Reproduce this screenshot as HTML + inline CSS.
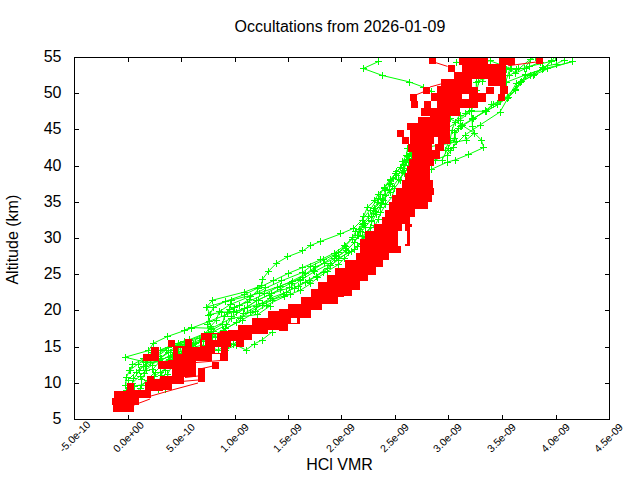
<!DOCTYPE html><html><head><meta charset="utf-8"><style>html,body{margin:0;padding:0;background:#fff;}svg{display:block;font-family:"Liberation Sans",sans-serif;}</style></head><body>
<svg width="640" height="480" viewBox="0 0 640 480">
<rect width="640" height="480" fill="#fff"/>
<path d="M74.5,57.5H79M609.5,57.5H605M74.5,419.5V415M74.5,57.5V62M74.5,93.5H79M609.5,93.5H605M128.5,419.5V415M128.5,57.5V62M74.5,129.5H79M609.5,129.5H605M181.5,419.5V415M181.5,57.5V62M74.5,166.5H79M609.5,166.5H605M235.5,419.5V415M235.5,57.5V62M74.5,202.5H79M609.5,202.5H605M288.5,419.5V415M288.5,57.5V62M74.5,238.5H79M609.5,238.5H605M341.5,419.5V415M341.5,57.5V62M74.5,274.5H79M609.5,274.5H605M395.5,419.5V415M395.5,57.5V62M74.5,310.5H79M609.5,310.5H605M448.5,419.5V415M448.5,57.5V62M74.5,347.5H79M609.5,347.5H605M502.5,419.5V415M502.5,57.5V62M74.5,383.5H79M609.5,383.5H605M556.5,419.5V415M556.5,57.5V62M74.5,419.5H79M609.5,419.5H605M609.5,419.5V415M609.5,57.5V62" stroke="#000" stroke-width="1" fill="none"/>
<rect x="74.5" y="57.5" width="535.0" height="362.0" stroke="#000" stroke-width="1" fill="none"/>
<clipPath id="pc"><rect x="75" y="58" width="534" height="361"/></clipPath><g clip-path="url(#pc)">
<path d="M125.00,357.20L148.40,350.60L153.40,343.25L167.75,336.40L191.25,328.25L209.00,321.40L233.50,311.90L262.00,303.00L290.00,294.00M125.00,357.20L145.00,362.00L162.50,362.00L175.00,358.00L190.00,352.00M126.00,397.00L134.00,386.00L141.00,385.00L150.00,380.00L160.00,372.00L165.00,370.00M126.00,390.00L132.00,383.00L140.00,376.00L146.00,370.00L152.00,365.00L160.00,358.00L168.00,352.00M128.00,380.00L136.00,372.00L143.00,366.00L150.00,362.00L158.00,356.00L166.00,350.00M135.00,395.00L140.00,388.00L147.00,380.00L155.00,372.00L163.00,364.00L172.00,356.00M130.00,370.00L138.00,364.00L145.00,360.00L153.00,356.00L160.00,350.00L178.00,343.00L184.00,341.00M206.50,307.00L212.75,300.10L244.60,292.00L261.60,285.60L262.60,279.10L268.20,271.60L276.60,263.10L287.90,256.60L302.90,250.90L310.00,245.75L320.60,241.40L340.60,233.90L353.75,228.25L362.00,220.00L370.00,210.00L378.00,198.00M206.50,307.00L231.50,300.10L259.00,293.25L280.00,286.00L300.00,279.00M206.50,307.00L210.25,314.50L221.50,312.00L227.75,312.00L234.00,307.00L239.00,305.75L249.00,299.50L261.50,285.75M184.00,330.10L191.50,327.60L211.50,328.25L231.50,318.25L257.75,314.50L270.00,306.00M378.50,61.50L363.30,68.50L382.50,75.50L409.75,82.00L423.10,87.00L431.00,91.00M431.00,169.50L447.50,162.00L455.00,160.00L468.75,154.40L483.75,147.50L481.25,140.00L474.40,133.10L462.50,125.60L450.00,118.75L440.00,112.00M412.00,158.00L435.00,160.00L447.50,155.00L453.10,147.50L456.25,141.25L454.40,132.50L461.90,126.25L473.75,118.75L485.00,110.75L493.75,104.50L507.50,98.25L515.00,89.50L520.60,82.00L533.75,75.10L547.50,68.90L572.50,61.40M410.00,150.00L440.00,145.00L466.25,140.00L474.40,133.10L472.50,126.25L471.25,111.25L486.25,111.25L491.90,104.40L508.10,97.60L515.60,90.10L525.60,75.75L543.10,68.90L551.25,61.40L555.00,57.00M445.00,130.00L460.00,120.00L471.25,110.75L476.25,98.00L476.25,82.00L490.00,75.00L509.40,75.75L518.75,68.90L530.00,59.50L535.00,57.00M456.25,62.00L470.00,65.00L490.00,60.75L511.90,68.90L526.25,68.25L529.40,66.40L551.25,61.40M500.00,100.00L510.00,68.25L515.00,73.25L526.25,68.25L540.00,62.00M450.00,150.00L465.00,135.00L480.00,125.00L500.00,112.00L516.25,83.25L530.00,75.00M460.00,126.40L472.50,119.00L485.30,111.40L497.50,104.80L507.80,97.30L515.30,90.75L521.90,81.40L525.60,74.80L542.50,69.20L572.50,61.70M472.20,118.90L497.50,104.80L521.90,81.40L542.50,69.20L551.90,60.75M506.90,82.00L525.60,74.80L534.00,74.80L542.50,67.00L556.00,64.00L564.00,60.00M506.90,69.20L516.00,69.20L524.70,68.25L530.60,59.80M476.90,90.75L478.75,81.40L482.50,81.40L490.00,70.00M469.40,111.40L465.60,113.30L458.00,120.00M160.00,358.00L170.00,352.00L180.00,346.00L195.00,343.00L205.00,341.00L215.00,337.00L225.00,332.00M158.00,361.00L168.00,357.00L178.00,353.00L190.00,348.00L203.00,345.00L218.00,350.00L228.00,345.00M225.00,350.00L236.00,345.00L246.00,350.00L254.00,344.00L262.00,340.00L272.00,332.00M240.00,318.00L250.00,312.00L262.00,305.00L272.00,300.00L283.00,294.00L294.00,288.00L305.00,282.00L316.00,276.00L327.00,268.00L338.00,260.00L348.00,252.00M236.00,312.00L247.00,307.00L258.00,300.00L269.00,295.00L280.00,289.00L291.00,283.00L302.00,277.00L313.00,270.00L324.00,263.00L335.00,255.00L345.00,248.00M445.00,150.00L450.00,140.00L452.00,130.00L455.00,122.00L460.00,115.00M442.00,160.00L448.00,148.00L454.00,138.00L458.00,128.00M125.91,385.52L126.01,377.83L129.73,370.48L132.85,364.57L143.33,358.72L152.38,352.77L174.70,345.75L189.41,339.64L208.68,332.02L207.86,324.55L208.86,315.88L213.52,307.56L225.26,301.39L244.37,294.73L257.02,288.44L273.18,280.79L288.24,273.40L302.67,267.48L320.85,259.70L334.27,253.02L344.52,245.92L352.33,237.80L355.90,231.33L362.58,224.01L363.78,216.08L367.31,207.40L374.81,200.41L378.12,194.21L384.32,188.35L390.78,180.32L396.17,171.95L403.72,164.13L407.52,156.65L412.67,148.39M133.71,378.72L139.32,370.87L146.68,362.15L155.05,355.56L168.26,347.81L189.08,340.69L204.62,334.60L210.41,326.55L216.30,320.07L219.20,311.72L230.03,304.63L250.51,296.24L265.99,287.91L281.34,280.92L302.41,272.53L310.63,266.33L323.64,259.90L338.25,252.70L345.17,246.18L352.03,239.18L360.49,231.74L363.07,223.93L368.68,216.34L373.28,210.43L377.59,202.35L380.38,194.22L384.19,187.28L390.06,179.64L395.56,173.70L400.71,167.47L402.80,161.57L406.34,155.38L407.55,148.55M141.97,379.72L144.89,373.22L145.37,366.39L161.07,358.10L168.49,350.96L180.70,344.97L199.27,338.20L212.00,329.97L222.54,324.16L224.26,316.84L229.10,309.47L247.63,302.14L264.74,293.81L277.49,287.29L292.11,281.05L305.91,273.71L315.19,266.98L334.22,258.81L346.42,250.51L354.76,242.32L357.71,235.90L359.31,229.09L364.70,223.27L371.24,216.75L374.77,208.14L382.99,199.59L385.40,190.98L389.22,184.58L393.67,178.25L403.04,170.64L405.88,162.38L411.25,154.68L411.76,148.68M154.47,376.35L152.96,369.18L159.97,361.07L174.12,352.93L184.00,346.00L206.54,337.42L213.87,331.17L226.79,324.98L231.86,316.82L244.58,308.60L256.16,300.89L271.58,293.50L289.73,287.72L300.91,280.03L314.59,271.49L330.87,263.13L337.00,256.76L346.64,250.14L354.26,242.64L358.16,235.65L365.14,227.18L371.26,220.06L375.44,211.61L381.10,203.11L385.83,195.78L389.10,189.98L390.57,183.69L396.87,175.56L404.51,168.40L406.56,160.99L410.55,153.69M158.39,389.88L157.98,383.39L161.29,375.34L164.78,367.91L169.60,359.43L178.05,351.86L193.08,344.58L207.74,337.48L223.47,330.31L236.14,322.47L243.40,313.90L256.43,306.48L270.40,298.22L286.12,292.12L298.47,286.16L309.87,280.20L323.04,272.11L331.00,265.91L338.34,258.19L354.47,249.80L360.52,243.40L362.35,236.47L370.22,227.76L371.97,221.53L376.11,214.24L380.02,207.92L383.27,200.01L390.12,192.61L392.80,186.81L398.26,179.20L404.46,173.27L408.84,165.16L407.93,159.11L412.48,153.25M165.18,389.41L169.68,380.93L167.38,374.42L172.18,365.92L175.53,358.08L184.25,352.17L192.13,345.15L212.61,336.60L225.60,328.45L242.11,320.14L255.43,311.81L266.76,305.06L284.52,296.54L300.08,290.41L310.21,283.95L317.64,277.73L327.14,271.38L338.15,264.73L344.66,258.12L351.27,251.85L357.14,246.05L363.89,240.27L365.56,232.87L374.80,225.71L378.15,219.65L380.89,212.61L385.78,204.37L392.07,197.11L394.35,188.42L400.65,180.18L402.66,172.54L403.95,165.75L407.11,159.62L410.16,151.66M228.00,343.00L233.00,344.00L238.00,342.00" fill="none" stroke="#00ff00" stroke-width="1"/>
<path d="M122.0,357.5h7M125.5,354.0v7M145.0,350.5h7M148.5,347.0v7M150.0,343.5h7M153.5,340.0v7M164.0,336.5h7M167.5,333.0v7M188.0,328.5h7M191.5,325.0v7M206.0,321.5h7M209.5,318.0v7M230.0,311.5h7M233.5,308.0v7M259.0,303.5h7M262.5,300.0v7M287.0,294.5h7M290.5,291.0v7M122.0,357.5h7M125.5,354.0v7M142.0,362.5h7M145.5,359.0v7M159.0,362.5h7M162.5,359.0v7M172.0,358.5h7M175.5,355.0v7M187.0,352.5h7M190.5,349.0v7M123.0,397.5h7M126.5,394.0v7M131.0,386.5h7M134.5,383.0v7M138.0,385.5h7M141.5,382.0v7M147.0,380.5h7M150.5,377.0v7M157.0,372.5h7M160.5,369.0v7M162.0,370.5h7M165.5,367.0v7M123.0,390.5h7M126.5,387.0v7M129.0,383.5h7M132.5,380.0v7M137.0,376.5h7M140.5,373.0v7M143.0,370.5h7M146.5,367.0v7M149.0,365.5h7M152.5,362.0v7M157.0,358.5h7M160.5,355.0v7M165.0,352.5h7M168.5,349.0v7M125.0,380.5h7M128.5,377.0v7M133.0,372.5h7M136.5,369.0v7M140.0,366.5h7M143.5,363.0v7M147.0,362.5h7M150.5,359.0v7M155.0,356.5h7M158.5,353.0v7M163.0,350.5h7M166.5,347.0v7M132.0,395.5h7M135.5,392.0v7M137.0,388.5h7M140.5,385.0v7M144.0,380.5h7M147.5,377.0v7M152.0,372.5h7M155.5,369.0v7M160.0,364.5h7M163.5,361.0v7M169.0,356.5h7M172.5,353.0v7M127.0,370.5h7M130.5,367.0v7M135.0,364.5h7M138.5,361.0v7M142.0,360.5h7M145.5,357.0v7M150.0,356.5h7M153.5,353.0v7M157.0,350.5h7M160.5,347.0v7M175.0,343.5h7M178.5,340.0v7M181.0,341.5h7M184.5,338.0v7M203.0,307.5h7M206.5,304.0v7M209.0,300.5h7M212.5,297.0v7M241.0,292.5h7M244.5,289.0v7M258.0,285.5h7M261.5,282.0v7M259.0,279.5h7M262.5,276.0v7M265.0,271.5h7M268.5,268.0v7M273.0,263.5h7M276.5,260.0v7M284.0,256.5h7M287.5,253.0v7M299.0,250.5h7M302.5,247.0v7M307.0,245.5h7M310.5,242.0v7M317.0,241.5h7M320.5,238.0v7M337.0,233.5h7M340.5,230.0v7M350.0,228.5h7M353.5,225.0v7M359.0,220.5h7M362.5,217.0v7M367.0,210.5h7M370.5,207.0v7M375.0,198.5h7M378.5,195.0v7M203.0,307.5h7M206.5,304.0v7M228.0,300.5h7M231.5,297.0v7M256.0,293.5h7M259.5,290.0v7M277.0,286.5h7M280.5,283.0v7M297.0,279.5h7M300.5,276.0v7M203.0,307.5h7M206.5,304.0v7M207.0,314.5h7M210.5,311.0v7M218.0,312.5h7M221.5,309.0v7M224.0,312.5h7M227.5,309.0v7M231.0,307.5h7M234.5,304.0v7M236.0,305.5h7M239.5,302.0v7M246.0,299.5h7M249.5,296.0v7M258.0,285.5h7M261.5,282.0v7M181.0,330.5h7M184.5,327.0v7M188.0,327.5h7M191.5,324.0v7M208.0,328.5h7M211.5,325.0v7M228.0,318.5h7M231.5,315.0v7M254.0,314.5h7M257.5,311.0v7M267.0,306.5h7M270.5,303.0v7M375.0,61.5h7M378.5,58.0v7M360.0,68.5h7M363.5,65.0v7M379.0,75.5h7M382.5,72.0v7M406.0,82.5h7M409.5,79.0v7M420.0,87.5h7M423.5,84.0v7M428.0,91.5h7M431.5,88.0v7M428.0,169.5h7M431.5,166.0v7M444.0,162.5h7M447.5,159.0v7M452.0,160.5h7M455.5,157.0v7M465.0,154.5h7M468.5,151.0v7M480.0,147.5h7M483.5,144.0v7M478.0,140.5h7M481.5,137.0v7M471.0,133.5h7M474.5,130.0v7M459.0,125.5h7M462.5,122.0v7M447.0,118.5h7M450.5,115.0v7M437.0,112.5h7M440.5,109.0v7M409.0,158.5h7M412.5,155.0v7M432.0,160.5h7M435.5,157.0v7M444.0,155.5h7M447.5,152.0v7M450.0,147.5h7M453.5,144.0v7M453.0,141.5h7M456.5,138.0v7M451.0,132.5h7M454.5,129.0v7M458.0,126.5h7M461.5,123.0v7M470.0,118.5h7M473.5,115.0v7M482.0,110.5h7M485.5,107.0v7M490.0,104.5h7M493.5,101.0v7M504.0,98.5h7M507.5,95.0v7M512.0,89.5h7M515.5,86.0v7M517.0,82.5h7M520.5,79.0v7M530.0,75.5h7M533.5,72.0v7M544.0,68.5h7M547.5,65.0v7M569.0,61.5h7M572.5,58.0v7M407.0,150.5h7M410.5,147.0v7M437.0,145.5h7M440.5,142.0v7M463.0,140.5h7M466.5,137.0v7M471.0,133.5h7M474.5,130.0v7M469.0,126.5h7M472.5,123.0v7M468.0,111.5h7M471.5,108.0v7M483.0,111.5h7M486.5,108.0v7M488.0,104.5h7M491.5,101.0v7M505.0,97.5h7M508.5,94.0v7M512.0,90.5h7M515.5,87.0v7M522.0,75.5h7M525.5,72.0v7M540.0,68.5h7M543.5,65.0v7M548.0,61.5h7M551.5,58.0v7M552.0,57.5h7M555.5,54.0v7M442.0,130.5h7M445.5,127.0v7M457.0,120.5h7M460.5,117.0v7M468.0,110.5h7M471.5,107.0v7M473.0,98.5h7M476.5,95.0v7M473.0,82.5h7M476.5,79.0v7M487.0,75.5h7M490.5,72.0v7M506.0,75.5h7M509.5,72.0v7M515.0,68.5h7M518.5,65.0v7M527.0,59.5h7M530.5,56.0v7M532.0,57.5h7M535.5,54.0v7M453.0,62.5h7M456.5,59.0v7M467.0,65.5h7M470.5,62.0v7M487.0,60.5h7M490.5,57.0v7M508.0,68.5h7M511.5,65.0v7M523.0,68.5h7M526.5,65.0v7M526.0,66.5h7M529.5,63.0v7M548.0,61.5h7M551.5,58.0v7M497.0,100.5h7M500.5,97.0v7M507.0,68.5h7M510.5,65.0v7M512.0,73.5h7M515.5,70.0v7M523.0,68.5h7M526.5,65.0v7M537.0,62.5h7M540.5,59.0v7M447.0,150.5h7M450.5,147.0v7M462.0,135.5h7M465.5,132.0v7M477.0,125.5h7M480.5,122.0v7M497.0,112.5h7M500.5,109.0v7M513.0,83.5h7M516.5,80.0v7M527.0,75.5h7M530.5,72.0v7M457.0,126.5h7M460.5,123.0v7M469.0,119.5h7M472.5,116.0v7M482.0,111.5h7M485.5,108.0v7M494.0,104.5h7M497.5,101.0v7M504.0,97.5h7M507.5,94.0v7M512.0,90.5h7M515.5,87.0v7M518.0,81.5h7M521.5,78.0v7M522.0,74.5h7M525.5,71.0v7M539.0,69.5h7M542.5,66.0v7M569.0,61.5h7M572.5,58.0v7M469.0,118.5h7M472.5,115.0v7M494.0,104.5h7M497.5,101.0v7M518.0,81.5h7M521.5,78.0v7M539.0,69.5h7M542.5,66.0v7M548.0,60.5h7M551.5,57.0v7M503.0,82.5h7M506.5,79.0v7M522.0,74.5h7M525.5,71.0v7M531.0,74.5h7M534.5,71.0v7M539.0,67.5h7M542.5,64.0v7M553.0,64.5h7M556.5,61.0v7M561.0,60.5h7M564.5,57.0v7M503.0,69.5h7M506.5,66.0v7M513.0,69.5h7M516.5,66.0v7M521.0,68.5h7M524.5,65.0v7M527.0,59.5h7M530.5,56.0v7M473.0,90.5h7M476.5,87.0v7M475.0,81.5h7M478.5,78.0v7M479.0,81.5h7M482.5,78.0v7M487.0,70.5h7M490.5,67.0v7M466.0,111.5h7M469.5,108.0v7M462.0,113.5h7M465.5,110.0v7M455.0,120.5h7M458.5,117.0v7M157.0,358.5h7M160.5,355.0v7M167.0,352.5h7M170.5,349.0v7M177.0,346.5h7M180.5,343.0v7M192.0,343.5h7M195.5,340.0v7M202.0,341.5h7M205.5,338.0v7M212.0,337.5h7M215.5,334.0v7M222.0,332.5h7M225.5,329.0v7M155.0,361.5h7M158.5,358.0v7M165.0,357.5h7M168.5,354.0v7M175.0,353.5h7M178.5,350.0v7M187.0,348.5h7M190.5,345.0v7M200.0,345.5h7M203.5,342.0v7M215.0,350.5h7M218.5,347.0v7M225.0,345.5h7M228.5,342.0v7M222.0,350.5h7M225.5,347.0v7M233.0,345.5h7M236.5,342.0v7M243.0,350.5h7M246.5,347.0v7M251.0,344.5h7M254.5,341.0v7M259.0,340.5h7M262.5,337.0v7M269.0,332.5h7M272.5,329.0v7M237.0,318.5h7M240.5,315.0v7M247.0,312.5h7M250.5,309.0v7M259.0,305.5h7M262.5,302.0v7M269.0,300.5h7M272.5,297.0v7M280.0,294.5h7M283.5,291.0v7M291.0,288.5h7M294.5,285.0v7M302.0,282.5h7M305.5,279.0v7M313.0,276.5h7M316.5,273.0v7M324.0,268.5h7M327.5,265.0v7M335.0,260.5h7M338.5,257.0v7M345.0,252.5h7M348.5,249.0v7M233.0,312.5h7M236.5,309.0v7M244.0,307.5h7M247.5,304.0v7M255.0,300.5h7M258.5,297.0v7M266.0,295.5h7M269.5,292.0v7M277.0,289.5h7M280.5,286.0v7M288.0,283.5h7M291.5,280.0v7M299.0,277.5h7M302.5,274.0v7M310.0,270.5h7M313.5,267.0v7M321.0,263.5h7M324.5,260.0v7M332.0,255.5h7M335.5,252.0v7M342.0,248.5h7M345.5,245.0v7M442.0,150.5h7M445.5,147.0v7M447.0,140.5h7M450.5,137.0v7M449.0,130.5h7M452.5,127.0v7M452.0,122.5h7M455.5,119.0v7M457.0,115.5h7M460.5,112.0v7M439.0,160.5h7M442.5,157.0v7M445.0,148.5h7M448.5,145.0v7M451.0,138.5h7M454.5,135.0v7M455.0,128.5h7M458.5,125.0v7M122.0,385.5h7M125.5,382.0v7M123.0,377.5h7M126.5,374.0v7M126.0,370.5h7M129.5,367.0v7M129.0,364.5h7M132.5,361.0v7M140.0,358.5h7M143.5,355.0v7M149.0,352.5h7M152.5,349.0v7M171.0,345.5h7M174.5,342.0v7M186.0,339.5h7M189.5,336.0v7M205.0,332.5h7M208.5,329.0v7M204.0,324.5h7M207.5,321.0v7M205.0,315.5h7M208.5,312.0v7M210.0,307.5h7M213.5,304.0v7M222.0,301.5h7M225.5,298.0v7M241.0,294.5h7M244.5,291.0v7M254.0,288.5h7M257.5,285.0v7M270.0,280.5h7M273.5,277.0v7M285.0,273.5h7M288.5,270.0v7M299.0,267.5h7M302.5,264.0v7M317.0,259.5h7M320.5,256.0v7M331.0,253.5h7M334.5,250.0v7M341.0,245.5h7M344.5,242.0v7M349.0,237.5h7M352.5,234.0v7M352.0,231.5h7M355.5,228.0v7M359.0,224.5h7M362.5,221.0v7M360.0,216.5h7M363.5,213.0v7M364.0,207.5h7M367.5,204.0v7M371.0,200.5h7M374.5,197.0v7M375.0,194.5h7M378.5,191.0v7M381.0,188.5h7M384.5,185.0v7M387.0,180.5h7M390.5,177.0v7M393.0,171.5h7M396.5,168.0v7M400.0,164.5h7M403.5,161.0v7M404.0,156.5h7M407.5,153.0v7M409.0,148.5h7M412.5,145.0v7M130.0,378.5h7M133.5,375.0v7M136.0,370.5h7M139.5,367.0v7M143.0,362.5h7M146.5,359.0v7M152.0,355.5h7M155.5,352.0v7M165.0,347.5h7M168.5,344.0v7M186.0,340.5h7M189.5,337.0v7M201.0,334.5h7M204.5,331.0v7M207.0,326.5h7M210.5,323.0v7M213.0,320.5h7M216.5,317.0v7M216.0,311.5h7M219.5,308.0v7M227.0,304.5h7M230.5,301.0v7M247.0,296.5h7M250.5,293.0v7M262.0,287.5h7M265.5,284.0v7M278.0,280.5h7M281.5,277.0v7M299.0,272.5h7M302.5,269.0v7M307.0,266.5h7M310.5,263.0v7M320.0,259.5h7M323.5,256.0v7M335.0,252.5h7M338.5,249.0v7M342.0,246.5h7M345.5,243.0v7M349.0,239.5h7M352.5,236.0v7M357.0,231.5h7M360.5,228.0v7M360.0,223.5h7M363.5,220.0v7M365.0,216.5h7M368.5,213.0v7M370.0,210.5h7M373.5,207.0v7M374.0,202.5h7M377.5,199.0v7M377.0,194.5h7M380.5,191.0v7M381.0,187.5h7M384.5,184.0v7M387.0,179.5h7M390.5,176.0v7M392.0,173.5h7M395.5,170.0v7M397.0,167.5h7M400.5,164.0v7M399.0,161.5h7M402.5,158.0v7M403.0,155.5h7M406.5,152.0v7M404.0,148.5h7M407.5,145.0v7M138.0,379.5h7M141.5,376.0v7M141.0,373.5h7M144.5,370.0v7M142.0,366.5h7M145.5,363.0v7M158.0,358.5h7M161.5,355.0v7M165.0,350.5h7M168.5,347.0v7M177.0,344.5h7M180.5,341.0v7M196.0,338.5h7M199.5,335.0v7M208.0,329.5h7M211.5,326.0v7M219.0,324.5h7M222.5,321.0v7M221.0,316.5h7M224.5,313.0v7M226.0,309.5h7M229.5,306.0v7M244.0,302.5h7M247.5,299.0v7M261.0,293.5h7M264.5,290.0v7M274.0,287.5h7M277.5,284.0v7M289.0,281.5h7M292.5,278.0v7M302.0,273.5h7M305.5,270.0v7M312.0,266.5h7M315.5,263.0v7M331.0,258.5h7M334.5,255.0v7M343.0,250.5h7M346.5,247.0v7M351.0,242.5h7M354.5,239.0v7M354.0,235.5h7M357.5,232.0v7M356.0,229.5h7M359.5,226.0v7M361.0,223.5h7M364.5,220.0v7M368.0,216.5h7M371.5,213.0v7M371.0,208.5h7M374.5,205.0v7M379.0,199.5h7M382.5,196.0v7M382.0,190.5h7M385.5,187.0v7M386.0,184.5h7M389.5,181.0v7M390.0,178.5h7M393.5,175.0v7M400.0,170.5h7M403.5,167.0v7M402.0,162.5h7M405.5,159.0v7M408.0,154.5h7M411.5,151.0v7M408.0,148.5h7M411.5,145.0v7M151.0,376.5h7M154.5,373.0v7M149.0,369.5h7M152.5,366.0v7M156.0,361.5h7M159.5,358.0v7M171.0,352.5h7M174.5,349.0v7M181.0,346.5h7M184.5,343.0v7M203.0,337.5h7M206.5,334.0v7M210.0,331.5h7M213.5,328.0v7M223.0,324.5h7M226.5,321.0v7M228.0,316.5h7M231.5,313.0v7M241.0,308.5h7M244.5,305.0v7M253.0,300.5h7M256.5,297.0v7M268.0,293.5h7M271.5,290.0v7M286.0,287.5h7M289.5,284.0v7M297.0,280.5h7M300.5,277.0v7M311.0,271.5h7M314.5,268.0v7M327.0,263.5h7M330.5,260.0v7M333.0,256.5h7M336.5,253.0v7M343.0,250.5h7M346.5,247.0v7M351.0,242.5h7M354.5,239.0v7M355.0,235.5h7M358.5,232.0v7M362.0,227.5h7M365.5,224.0v7M368.0,220.5h7M371.5,217.0v7M372.0,211.5h7M375.5,208.0v7M378.0,203.5h7M381.5,200.0v7M382.0,195.5h7M385.5,192.0v7M386.0,189.5h7M389.5,186.0v7M387.0,183.5h7M390.5,180.0v7M393.0,175.5h7M396.5,172.0v7M401.0,168.5h7M404.5,165.0v7M403.0,160.5h7M406.5,157.0v7M407.0,153.5h7M410.5,150.0v7M155.0,389.5h7M158.5,386.0v7M154.0,383.5h7M157.5,380.0v7M158.0,375.5h7M161.5,372.0v7M161.0,367.5h7M164.5,364.0v7M166.0,359.5h7M169.5,356.0v7M175.0,351.5h7M178.5,348.0v7M190.0,344.5h7M193.5,341.0v7M204.0,337.5h7M207.5,334.0v7M220.0,330.5h7M223.5,327.0v7M233.0,322.5h7M236.5,319.0v7M240.0,313.5h7M243.5,310.0v7M253.0,306.5h7M256.5,303.0v7M267.0,298.5h7M270.5,295.0v7M283.0,292.5h7M286.5,289.0v7M295.0,286.5h7M298.5,283.0v7M306.0,280.5h7M309.5,277.0v7M320.0,272.5h7M323.5,269.0v7M327.0,265.5h7M330.5,262.0v7M335.0,258.5h7M338.5,255.0v7M351.0,249.5h7M354.5,246.0v7M357.0,243.5h7M360.5,240.0v7M359.0,236.5h7M362.5,233.0v7M367.0,227.5h7M370.5,224.0v7M368.0,221.5h7M371.5,218.0v7M373.0,214.5h7M376.5,211.0v7M377.0,207.5h7M380.5,204.0v7M380.0,200.5h7M383.5,197.0v7M387.0,192.5h7M390.5,189.0v7M389.0,186.5h7M392.5,183.0v7M395.0,179.5h7M398.5,176.0v7M401.0,173.5h7M404.5,170.0v7M405.0,165.5h7M408.5,162.0v7M404.0,159.5h7M407.5,156.0v7M409.0,153.5h7M412.5,150.0v7M162.0,389.5h7M165.5,386.0v7M166.0,380.5h7M169.5,377.0v7M164.0,374.5h7M167.5,371.0v7M169.0,365.5h7M172.5,362.0v7M172.0,358.5h7M175.5,355.0v7M181.0,352.5h7M184.5,349.0v7M189.0,345.5h7M192.5,342.0v7M209.0,336.5h7M212.5,333.0v7M222.0,328.5h7M225.5,325.0v7M239.0,320.5h7M242.5,317.0v7M252.0,311.5h7M255.5,308.0v7M263.0,305.5h7M266.5,302.0v7M281.0,296.5h7M284.5,293.0v7M297.0,290.5h7M300.5,287.0v7M307.0,283.5h7M310.5,280.0v7M314.0,277.5h7M317.5,274.0v7M324.0,271.5h7M327.5,268.0v7M335.0,264.5h7M338.5,261.0v7M341.0,258.5h7M344.5,255.0v7M348.0,251.5h7M351.5,248.0v7M354.0,246.5h7M357.5,243.0v7M360.0,240.5h7M363.5,237.0v7M362.0,232.5h7M365.5,229.0v7M371.0,225.5h7M374.5,222.0v7M375.0,219.5h7M378.5,216.0v7M377.0,212.5h7M380.5,209.0v7M382.0,204.5h7M385.5,201.0v7M389.0,197.5h7M392.5,194.0v7M391.0,188.5h7M394.5,185.0v7M397.0,180.5h7M400.5,177.0v7M399.0,172.5h7M402.5,169.0v7M400.0,165.5h7M403.5,162.0v7M404.0,159.5h7M407.5,156.0v7M407.0,151.5h7M410.5,148.0v7M225.0,343.5h7M228.5,340.0v7M230.0,344.5h7M233.5,341.0v7M235.0,342.5h7M238.5,339.0v7" stroke="#00ff00" stroke-width="1" fill="none"/>
<defs><mask id="hm" maskUnits="userSpaceOnUse" x="0" y="0" width="640" height="480"><rect x="0" y="0" width="640" height="480" fill="#fff"/><rect x="231" y="341" width="5" height="6" fill="#000"/><rect x="291" y="318" width="6" height="5" fill="#000"/><rect x="398" y="231" width="9" height="13" fill="#000"/><rect x="402" y="224" width="3" height="7" fill="#000"/><rect x="434" y="137" width="4" height="7" fill="#000"/><rect x="431" y="101" width="3" height="7" fill="#000"/><rect x="455" y="65" width="7" height="7" fill="#000"/><rect x="462" y="94" width="7" height="5" fill="#000"/><rect x="478" y="102" width="8" height="6" fill="#000"/><rect x="472" y="79" width="16" height="8" fill="#000"/><rect x="178" y="348" width="4" height="6" fill="#000"/><rect x="160" y="369" width="12" height="7" fill="#000"/><rect x="159" y="347" width="14" height="13" fill="#000"/><rect x="192" y="338" width="8" height="9" fill="#000"/><rect x="212" y="334" width="5" height="6" fill="#000"/><rect x="202" y="340" width="3" height="6" fill="#000"/><rect x="215" y="347" width="6" height="6" fill="#000"/><rect x="175" y="340" width="10" height="6" fill="#000"/></mask></defs>
<path d="M113,398h21v14h-21zM112,398h27v7h-27zM114,391h12v7h-12zM126,390h8v8h-8zM134,390h17v8h-17zM127,383h7v7h-7zM147,376h7v7h-7zM145,382h18v9h-18zM154,379h18v11h-18zM160,376h24v8h-24zM172,364h12v20h-12zM158,361h14v8h-14zM143,354h16v7h-16zM151,347h12v7h-12zM168,340h7v21h-7zM175,346h9v15h-9zM158,362h14v7h-14zM172,362h12v15h-12zM175,342h10v19h-10zM185,339h16v22h-16zM201,333h11v28h-11zM212,333h8v21h-8zM220,331h8v30h-8zM228,330h12v17h-12zM160,361h12v9h-12zM172,361h24v15h-24zM184,376h12v1h-12zM198,368h7v14h-7zM212,362h7v7h-7zM220,333h24v14h-24zM238,325h14v15h-14zM252,318h16v16h-16zM268,311h11v19h-11zM279,309h9v22h-9zM288,304h12v20h-12zM300,304h11v14h-11zM311,304h11v6h-11zM301,297h37v7h-37zM311,289h33v8h-33zM318,282h26v7h-26zM327,275h25v21h-25zM335,268h25v22h-25zM345,260h15v8h-15zM356,253h4v7h-4zM360,267h16v8h-16zM360,275h8v6h-8zM345,260h38v7h-38zM356,253h33v7h-33zM360,239h34v14h-34zM365,231h14v8h-14zM374,224h28v15h-28zM382,217h28v7h-28zM385,210h25v7h-25zM389,207h21v3h-21zM402,224h8v15h-8zM405,238h5v8h-5zM394,246h7v7h-7zM393,239h5v7h-5zM407,167h23v13h-23zM405,173h2v7h-2zM402,181h31v7h-31zM396,188h38v7h-38zM392,195h40v7h-40zM389,202h39v7h-39zM385,210h30v7h-30zM374,224h38v3h-38zM402,180h31v1h-31zM389,208h26v2h-26zM418,117h32v6h-32zM407,123h43v7h-43zM397,130h7v7h-7zM410,130h40v14h-40zM402,137h7v7h-7zM408,144h24v7h-24zM435,144h9v7h-9zM412,152h28v7h-28zM409,159h25v7h-25zM407,166h23v11h-23zM408,150h32v2h-32zM429,58h7v6h-7zM448,65h6v7h-6zM459,58h11v7h-11zM454,65h16v15h-16zM441,79h29v7h-29zM423,87h7v7h-7zM437,86h28v21h-28zM437,107h23v9h-23zM410,94h7v7h-7zM411,101h7v7h-7zM431,93h6v8h-6zM424,101h7v7h-7zM421,108h39v8h-39zM465,87h5v7h-5zM465,100h5v6h-5zM430,115h20v3h-20zM459,58h29v28h-29zM455,98h23v10h-23zM469,87h9v11h-9zM478,93h8v9h-8zM486,87h8v7h-8zM501,87h7v7h-7zM498,94h7v7h-7zM488,64h18v22h-18zM499,58h16v6h-16zM461,85h11v3h-11zM500,58h15v7h-15zM500,65h6v21h-6zM500,86h8v7h-8zM500,93h5v8h-5zM536,58h7v6h-7zM470,57h18v2h-18z" fill="#ff0000" fill-rule="nonzero" shape-rendering="crispEdges" mask="url(#hm)"/>
<polyline points="435.60,62.60 447.50,66.40" fill="none" stroke="#ff0000" stroke-width="1"/>
<polyline points="416.90,94.50 423.10,92.00" fill="none" stroke="#ff0000" stroke-width="1"/>
<polyline points="430.00,87.00 441.25,83.90" fill="none" stroke="#ff0000" stroke-width="1"/>
<polyline points="508.10,65.75 536.25,62.00" fill="none" stroke="#ff0000" stroke-width="1"/>
<polyline points="196.00,362.50 220.00,360.60" fill="none" stroke="#ff0000" stroke-width="1"/>
<polyline points="198.00,369.40 212.00,366.25" fill="none" stroke="#ff0000" stroke-width="1"/>
<polyline points="185.00,377.50 198.00,376.00" fill="none" stroke="#ff0000" stroke-width="1"/>
<polyline points="184.00,381.25 198.00,380.00" fill="none" stroke="#ff0000" stroke-width="1"/>
<polyline points="151.00,396.00 172.00,390.00 198.00,383.00" fill="none" stroke="#ff0000" stroke-width="1"/>
<polyline points="134.00,405.00 150.00,399.00" fill="none" stroke="#ff0000" stroke-width="1"/>
</g>
<text x="61.5" y="62.00" font-size="16" text-anchor="end">55</text>
<text x="61.5" y="98.20" font-size="16" text-anchor="end">50</text>
<text x="61.5" y="134.40" font-size="16" text-anchor="end">45</text>
<text x="61.5" y="170.60" font-size="16" text-anchor="end">40</text>
<text x="61.5" y="206.80" font-size="16" text-anchor="end">35</text>
<text x="61.5" y="243.00" font-size="16" text-anchor="end">30</text>
<text x="61.5" y="279.20" font-size="16" text-anchor="end">25</text>
<text x="61.5" y="315.40" font-size="16" text-anchor="end">20</text>
<text x="61.5" y="351.60" font-size="16" text-anchor="end">15</text>
<text x="61.5" y="387.80" font-size="16" text-anchor="end">10</text>
<text x="61.5" y="424.00" font-size="16" text-anchor="end">5</text>
<text transform="translate(63.50,453) rotate(-45)" font-size="10.5">-5.0e-10</text>
<text transform="translate(117.50,453) rotate(-45)" font-size="10.5">0.0e+00</text>
<text transform="translate(170.50,453) rotate(-45)" font-size="10.5">5.0e-10</text>
<text transform="translate(224.50,453) rotate(-45)" font-size="10.5">1.0e-09</text>
<text transform="translate(277.50,453) rotate(-45)" font-size="10.5">1.5e-09</text>
<text transform="translate(330.50,453) rotate(-45)" font-size="10.5">2.0e-09</text>
<text transform="translate(384.50,453) rotate(-45)" font-size="10.5">2.5e-09</text>
<text transform="translate(437.50,453) rotate(-45)" font-size="10.5">3.0e-09</text>
<text transform="translate(491.50,453) rotate(-45)" font-size="10.5">3.5e-09</text>
<text transform="translate(545.50,453) rotate(-45)" font-size="10.5">4.0e-09</text>
<text transform="translate(598.50,453) rotate(-45)" font-size="10.5">4.5e-09</text>
<text x="340" y="32" font-size="16" text-anchor="middle">Occultations from 2026-01-09</text>
<text x="339.5" y="470" font-size="16" text-anchor="middle">HCl VMR</text>
<text transform="translate(18,239.7) rotate(-90)" font-size="16" text-anchor="middle">Altitude (km)</text>
</svg></body></html>
